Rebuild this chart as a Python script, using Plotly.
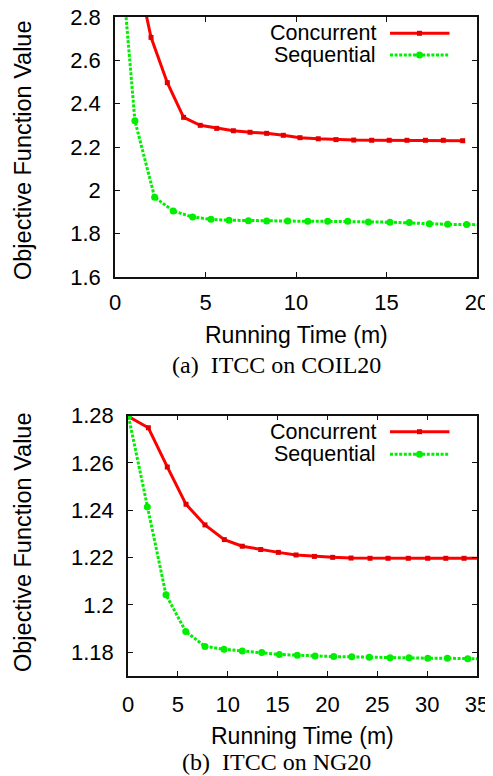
import plotly.graph_objects as go

# ---------------- data ----------------
# (a) ITCC on COIL20
coil_conc_x = [1.07, 1.99, 2.89, 3.79, 4.71, 5.62, 6.54, 7.46, 8.38, 9.30, 10.22,
               11.23, 12.21, 13.19, 14.18, 15.15, 16.13, 17.15, 18.14, 19.21]
coil_conc_y = [3.066, 2.706, 2.497, 2.337, 2.300, 2.286, 2.275, 2.268, 2.263, 2.254, 2.243,
               2.238, 2.234, 2.232, 2.231, 2.231, 2.231, 2.231, 2.231, 2.229]
coil_seq_x = [0.03, 1.10, 2.19, 3.22, 4.29, 5.30, 6.30, 7.37, 8.38, 9.54, 10.65,
              11.75, 12.86, 14.00, 15.19, 16.26, 17.37, 18.38, 19.43, 20.50]
coil_seq_y = [3.37, 2.321, 1.968, 1.905, 1.877, 1.866, 1.862, 1.860, 1.859, 1.859, 1.857,
              1.857, 1.857, 1.854, 1.853, 1.851, 1.846, 1.843, 1.842, 1.841]

# (b) ITCC on NG20
ng_conc_x = [0.05, 2.04, 3.94, 5.82, 7.72, 9.66, 11.46, 13.31, 15.08, 16.85, 18.69,
             20.53, 22.37, 24.27, 26.08, 28.11, 30.06, 31.87, 33.70, 35.55]
ng_conc_y = [1.2796, 1.2748, 1.2583, 1.2425, 1.2338, 1.2276, 1.2248, 1.2234, 1.2222, 1.2211, 1.2205,
             1.2201, 1.2198, 1.2197, 1.2197, 1.2197, 1.2197, 1.2197, 1.2197, 1.2197]
ng_seq_x = [0.05, 1.94, 3.81, 5.79, 7.72, 9.63, 11.46, 13.41, 15.18, 16.98, 18.76,
            20.63, 22.44, 24.20, 26.28, 28.18, 30.06, 32.03, 34.07, 36.00]
ng_seq_y = [1.2796, 1.2414, 1.2043, 1.1888, 1.1825, 1.1813, 1.1806, 1.1799, 1.1791, 1.1788, 1.1784,
            1.1782, 1.1781, 1.1779, 1.1777, 1.1777, 1.1775, 1.1775, 1.1773, 1.1772]

series_names = ["Concurrent", "Sequential"]
coil_xticks = [0, 5, 10, 15, 20]
coil_yticks = [1.6, 1.8, 2.0, 2.2, 2.4, 2.6, 2.8]
coil_yticktext = ["1.6", "1.8", "2", "2.2", "2.4", "2.6", "2.8"]
ng_xticks = [0, 5, 10, 15, 20, 25, 30, 35]
ng_yticks = [1.18, 1.20, 1.22, 1.24, 1.26, 1.28]
ng_yticktext = ["1.18", "1.2", "1.22", "1.24", "1.26", "1.28"]
x_title = "Running Time (m)"
y_title = "Objective Function Value"
captions = ["(a)  ITCC on COIL20", "(b)  ITCC on NG20"]

# ---------------- styling ----------------
# the page body has an 8px margin, so the figure is placed at (8, 8) in the window
OX, OY = 8, 8
W, H = 493, 776
RED = "#ff0000"
GREEN = "#00ee00"
SANS = "Liberation Sans"
SERIF = "Liberation Serif"


def px(x):
    return (x - OX) / W


def py(y):
    return 1 - (y - OY) / H


red_line = dict(color=RED, width=3)
red_marker = dict(symbol="square", size=5, color="#e00000")
green_line = dict(color=GREEN, width=3, dash="3px,1.6px")
green_marker = dict(symbol="circle", size=7, color=GREEN)

fig = go.Figure()
fig.add_trace(go.Scatter(x=coil_conc_x, y=coil_conc_y, mode="lines+markers",
                         line=red_line, marker=red_marker, xaxis="x", yaxis="y",
                         name=series_names[0], showlegend=False))
fig.add_trace(go.Scatter(x=coil_seq_x, y=coil_seq_y, mode="lines+markers",
                         line=green_line, marker=green_marker, xaxis="x", yaxis="y",
                         name=series_names[1], showlegend=False))
fig.add_trace(go.Scatter(x=ng_conc_x, y=ng_conc_y, mode="lines+markers",
                         line=red_line, marker=red_marker, xaxis="x2", yaxis="y2",
                         name=series_names[0], showlegend=False))
fig.add_trace(go.Scatter(x=ng_seq_x, y=ng_seq_y, mode="lines+markers",
                         line=green_line, marker=green_marker, xaxis="x2", yaxis="y2",
                         name=series_names[1], showlegend=False))

axis_common = dict(showline=True, linecolor="#111111", linewidth=1.5, mirror="ticks",
                   ticks="inside", ticklen=5, tickwidth=1.2, tickcolor="#111111",
                   showgrid=False, zeroline=False, automargin=False,
                   ticklabeloverflow="allow",
                   tickfont=dict(family=SANS, size=22, color="black"))

fig.update_layout(
    width=W, height=H,
    margin=dict(l=0, r=0, t=0, b=0, autoexpand=False),
    paper_bgcolor="white", plot_bgcolor="white",
    showlegend=False,
    xaxis=dict(domain=[px(115), px(477)], anchor="y", range=[0, 20],
               tickvals=coil_xticks, ticklabelstandoff=5, **axis_common),
    yaxis=dict(domain=[py(277), py(17)], anchor="x", range=[1.6, 2.8],
               tickvals=coil_yticks, ticktext=coil_yticktext, ticklabelstandoff=8,
               **axis_common),
    xaxis2=dict(domain=[px(128), px(477)], anchor="y2", range=[0, 35],
                tickvals=ng_xticks, ticklabelstandoff=8, **axis_common),
    yaxis2=dict(domain=[py(676), py(415.5)], anchor="x2", range=[1.17, 1.28],
                tickvals=ng_yticks, ticktext=ng_yticktext, ticklabelstandoff=8,
                **axis_common),
)

annotations = []
shapes = []

panels = [
    dict(xc=296, ycx=335, ycap=365, ytc=150, leg=(33.3, 55.0)),
    dict(xc=302.5, ycx=736, ycap=762, ytc=542, leg=(431.7, 454.3)),
]
for i, p in enumerate(panels):
    annotations.append(dict(text=x_title, x=px(p["xc"]), y=py(p["ycx"]), xref="paper", yref="paper",
                            xanchor="center", yanchor="middle", showarrow=False, borderpad=0,
                            font=dict(family=SANS, size=23, color="black")))
    annotations.append(dict(text=y_title, x=px(23), y=py(p["ytc"]), xref="paper", yref="paper",
                            xanchor="center", yanchor="middle", showarrow=False, textangle=-90,
                            borderpad=0, font=dict(family=SANS, size=23.5, color="black")))
    annotations.append(dict(text=captions[i], x=px(276), y=py(p["ycap"]), xref="paper", yref="paper",
                            xanchor="center", yanchor="middle", showarrow=False, borderpad=0,
                            font=dict(family=SERIF, size=24, color="black")))
    # legend (text on the left, sample on the right, gnuplot style)
    for j, yy in enumerate(p["leg"]):
        annotations.append(dict(text=series_names[j], x=px(377), y=py(yy), xref="paper", yref="paper",
                                xanchor="right", yanchor="middle", showarrow=False, borderpad=0,
                                font=dict(family=SANS, size=21.5, color="black")))
        if j == 0:
            shapes.append(dict(type="line", xref="paper", yref="paper", x0=px(390), x1=px(449.5),
                               y0=py(yy), y1=py(yy), line=dict(color=RED, width=3)))
            shapes.append(dict(type="rect", xref="paper", yref="paper",
                               x0=px(419.5 - 2.5), x1=px(419.5 + 2.5), y0=py(yy + 2.5), y1=py(yy - 2.5),
                               fillcolor="#e00000", line=dict(width=0)))
        else:
            shapes.append(dict(type="line", xref="paper", yref="paper", x0=px(390), x1=px(449.5),
                               y0=py(yy), y1=py(yy), line=dict(color=GREEN, width=3, dash="3px,1.6px")))
            shapes.append(dict(type="circle", xref="paper", yref="paper",
                               x0=px(419.5 - 3.5), x1=px(419.5 + 3.5), y0=py(yy + 3.5), y1=py(yy - 3.5),
                               fillcolor=GREEN, line=dict(width=0)))

fig.update_layout(annotations=annotations, shapes=shapes)
fig.write_html("out.html")
